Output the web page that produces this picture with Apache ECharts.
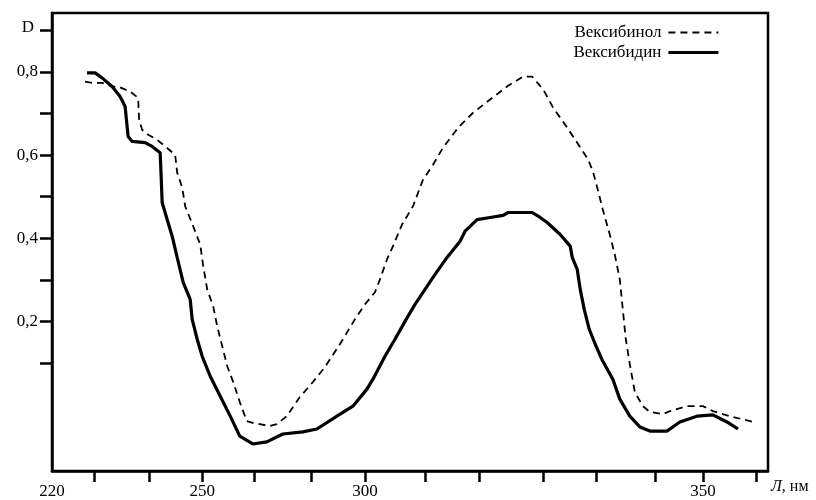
<!DOCTYPE html>
<html>
<head>
<meta charset="utf-8">
<script src="https://cdn.jsdelivr.net/npm/echarts@6/dist/echarts.min.js"></script>
<style>
    html, body { margin: 0; padding: 0; background: #fff; }
    #chart { width: 816px; height: 500px; }
</style>
</head>
<body>
<div id="chart"></div>
<script>
    // values; the printed x axis is not evenly spaced,
    // so tick and label places follow the picture
    var xTickValues = [228.4, 239.4, 250, 260.4, 271.7, 282.5, 294.5, 305.3, 318.1, 328.6, 340.4, 350, 360.6];
    var xLabelValues = [220, 250, 282.5, 350];
    var xLabelText = ['220', '250', '300', '350'];
    var yTickValues = [0.1, 0.2, 0.3, 0.4, 0.5, 0.6, 0.7, 0.8, 0.9];
    var yLabelValues = [0.2, 0.4, 0.6, 0.8];

    var seriesNames = ['Вексибинол', 'Вексибидин'];

    // Вексибинол (dashed)
    var binolX = [226.6, 228.0, 230.0, 232.2, 233.2, 235.6, 237.2, 237.4, 238.0, 239.2, 241.0, 242.2, 244.6, 245.0,
        246.0, 246.6, 248.2, 249.6, 250.2, 251.0, 252.2, 253.0, 254.0, 255.0, 256.2, 257.5, 258.9, 260.1, 263.5,
        264.9, 266.9, 269.5, 272.1, 274.5, 277.5, 280.5, 282.5, 284.5, 285.5, 286.9, 288.1, 289.9, 292.1, 294.1,
        296.1, 298.1, 301.1, 304.1, 307.5, 311.1, 314.1, 315.9, 318.1, 320.1, 322.5, 324.9, 327.1, 328.1, 329.0,
        330.0, 331.4, 332.4, 333.4, 334.0, 334.6, 335.4, 336.4, 338.0, 339.4, 342.0, 343.4, 346.8, 350.0, 352.0,
        355.4, 360.0];
    var binolD = [0.777, 0.774, 0.774, 0.765, 0.765, 0.753, 0.738, 0.685, 0.661, 0.649, 0.637, 0.625, 0.601, 0.558,
        0.522, 0.477, 0.429, 0.385, 0.333, 0.277, 0.236, 0.188, 0.140, 0.092, 0.054, 0.006, -0.040, -0.044, -0.052,
        -0.047, -0.028, 0.018, 0.054, 0.090, 0.145, 0.205, 0.241, 0.270, 0.301, 0.349, 0.381, 0.433, 0.477, 0.541,
        0.577, 0.618, 0.666, 0.702, 0.734, 0.767, 0.789, 0.789, 0.758, 0.714, 0.673, 0.630, 0.589, 0.558, 0.517,
        0.469, 0.409, 0.361, 0.301, 0.229, 0.157, 0.097, 0.030, -0.004, -0.018, -0.023, -0.016, -0.004, -0.004, -0.016,
        -0.028, -0.042];

    // Вексибидин (solid)
    var bidinX = [227.0, 228.6, 230.0, 232.0, 233.6, 234.6, 235.0, 235.2, 236.0, 238.6, 240.0, 241.6, 241.8, 242.0,
        243.0, 244.0, 245.0, 246.2, 247.6, 248.0, 249.0, 250.0, 251.6, 253.6, 255.6, 257.5, 260.1, 262.9, 266.1,
        270.1, 272.9, 276.9, 280.1, 282.9, 284.1, 286.5, 288.5, 290.5, 292.5, 294.5, 296.5, 298.9, 301.5, 302.5,
        304.9, 307.5, 310.1, 311.1, 313.5, 315.9, 317.5, 318.9, 321.5, 323.5, 323.9, 324.9, 325.5, 326.3, 327.3,
        328.5, 329.8, 332.0, 333.4, 335.4, 337.4, 339.4, 342.8, 345.4, 348.8, 352.0, 354.8, 357.0];
    var bidinD = [0.798, 0.798, 0.786, 0.765, 0.741, 0.717, 0.669, 0.645, 0.633, 0.630, 0.621, 0.606, 0.549, 0.486,
        0.445, 0.405, 0.354, 0.294, 0.253, 0.205, 0.157, 0.116, 0.068, 0.020, -0.028, -0.076, -0.095, -0.090, -0.071,
        -0.066, -0.059, -0.028, -0.004, 0.037, 0.061, 0.116, 0.157, 0.200, 0.241, 0.277, 0.313, 0.354, 0.393, 0.417,
        0.445, 0.450, 0.455, 0.462, 0.462, 0.462, 0.450, 0.438, 0.409, 0.381, 0.354, 0.325, 0.277, 0.229, 0.181,
        0.145, 0.109, 0.061, 0.013, -0.028, -0.054, -0.064, -0.064, -0.042, -0.028, -0.025, -0.042, -0.059];

    function pairs(xs, ys) {
        var out = [];
        xs.forEach(function (x, i) { out.push([x, ys[i]]); });
        return out;
    }

    var serif = 'Liberation Serif';
    var chart = echarts.init(document.getElementById('chart'));
    chart.setOption({
        animation: false,
        backgroundColor: '#fff',
        grid: {
            left: 52, top: 13, right: 48, bottom: 28,
            show: true, borderColor: '#000', borderWidth: 2.5
        },
        legend: {
            data: [
                { name: seriesNames[0], lineStyle: { width: 1.8 } },
                { name: seriesNames[1], lineStyle: { width: 3.2 } }
            ],
            orient: 'vertical',
            right: 91,
            top: 19,
            align: 'right',
            itemWidth: 50,
            itemHeight: 12,
            itemGap: 3,
            itemStyle: { opacity: 0 },
            textStyle: { fontFamily: serif, fontSize: 17, color: '#000', padding: [0, 2, 0, 0] }
        },
        xAxis: {
            type: 'value',
            min: 220,
            max: 363,
            name: '{i|Л}, нм',
            nameLocation: 'end',
            nameGap: 3,
            nameTextStyle: {
                fontFamily: serif, fontSize: 16, color: '#000',
                verticalAlign: 'top', padding: [8, 0, 0, 0],
                rich: { i: { fontFamily: serif, fontSize: 16, fontStyle: 'italic', color: '#000' } }
            },
            axisLine: { onZero: false, lineStyle: { color: '#000', width: 2.5 } },
            axisTick: { customValues: xTickValues, length: 11, lineStyle: { color: '#000', width: 2.5 } },
            axisLabel: {
                customValues: xLabelValues,
                margin: 12,
                fontFamily: serif, fontSize: 17, color: '#000',
                formatter: function (v) { return xLabelText[xLabelValues.indexOf(v)]; }
            },
            splitLine: { show: false }
        },
        yAxis: {
            type: 'value',
            min: -0.16,
            max: 0.942,
            name: 'D',
            nameLocation: 'end',
            nameGap: -15,
            nameTextStyle: {
                fontFamily: serif, fontSize: 17, color: '#000',
                align: 'right', verticalAlign: 'middle', padding: [0, 18, 0, 0]
            },
            axisLine: { onZero: false, lineStyle: { color: '#000', width: 2.5 } },
            axisTick: { customValues: yTickValues, length: 12, lineStyle: { color: '#000', width: 2.5 } },
            axisLabel: {
                customValues: yLabelValues,
                margin: 14,
                fontFamily: serif, fontSize: 17, color: '#000',
                formatter: function (v) { return v.toFixed(1).replace('.', ','); }
            },
            splitLine: { show: false }
        },
        series: [
            {
                name: seriesNames[0],
                type: 'line',
                symbol: 'none',
                data: pairs(binolX, binolD),
                lineStyle: { color: '#000', width: 1.8, type: [7, 5] },
                itemStyle: { color: 'rgba(0,0,0,0)' }
            },
            {
                name: seriesNames[1],
                type: 'line',
                symbol: 'none',
                data: pairs(bidinX, bidinD),
                lineStyle: { color: '#000', width: 3.2 },
                itemStyle: { color: 'rgba(0,0,0,0)' }
            }
        ]
    });
</script>
</body>
</html>
